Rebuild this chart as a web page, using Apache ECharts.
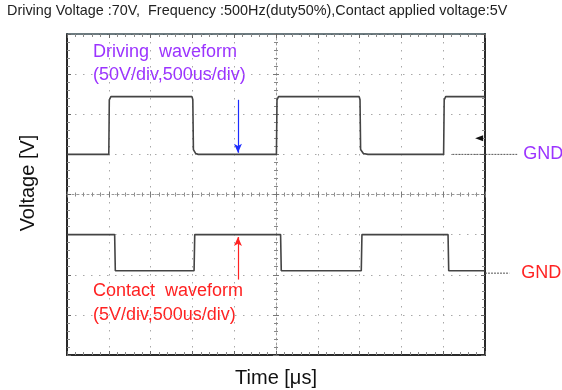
<!DOCTYPE html>
<html>
<head>
<meta charset="utf-8">
<script src="https://cdn.jsdelivr.net/npm/echarts@6/dist/echarts.min.js"></script>
<style>
html, body { margin: 0; padding: 0; background: #fff; }
#mychart { width: 562px; height: 390px; }
</style>
</head>
<body>
<div id="mychart"></div>
<script>
// time [us] / voltage [V]
var driveTime = [0, 500, 506, 525, 1495, 1505, 1512, 1540, 1570, 2505, 2512, 2530, 3495, 3505, 3512, 3545, 3600, 4505, 4512, 4530, 5000];
var driveVolt = [0, 0, 68, 72, 72, 68, 6, 1, 0, 0, 68, 72, 72, 68, 6, 1, 0, 0, 68, 72, 72];
var contactTime = [0, 570, 578, 1520, 1528, 2555, 2563, 3520, 3528, 4558, 4566, 5000];
var contactVolt = [5, 5, 0.5, 0.5, 5, 5, 0.5, 0.5, 5, 5, 0.5, 0.5];

var gndDrive = 0;
var gndContact = 0.2;
var triggerLevel = [4930, 20];
var driveArrow = [[2045, 68], [2045, 2]];
var contactArrow = [[2045, -0.6], [2045, 4.7]];
var driveGndTime = [4610, 5385];
var contactGndTime = [5000, 5290];

var titleText = 'Driving Voltage :70V,  Frequency :500Hz(duty50%),Contact applied voltage:5V';

var FONT = 'Liberation Sans, Arial, sans-serif';
var purple = '#9b33ff';
var red = '#ff2222';

// plot box and the wider strip used for the GND markers
var plotLeft = 67, plotTop = 34, plotW = 418, plotH = 321, stripW = 495;

function pairs(xs, ys) {
	var out = [];
	for(var i = 0; i < xs.length; i++) {
		out.push([xs[i], ys[i]]);
	}
	return out;
}

var dotted = {
	show: true,
	lineStyle: { color: '#a8a8a8', width: 1, type: [1.5, 6.5] }
};

function borderAxis(pos, extra) {
	var a = {
		type: 'value',
		position: pos,
		axisLine: { show: true, onZero: false, lineStyle: { color: '#2a2a2a', width: 2 } },
		axisTick: { show: true, inside: true, length: 4, lineStyle: { color: '#666' } },
		minorTick: { show: true, splitNumber: 5, length: 3, lineStyle: { color: '#888' } },
		axisLabel: { show: false },
		splitLine: { show: false }
	};
	for(var k in extra) a[k] = extra[k];
	return a;
}

function centerAxis(pos, offset, inside, lineShow, extra) {
	var a = {
		type: 'value',
		position: pos,
		offset: offset,
		axisLine: { show: lineShow, onZero: false, lineStyle: { color: '#999', width: 1, type: [2, 3] } },
		axisTick: { show: true, inside: inside, length: 3, lineStyle: { color: '#777' } },
		minorTick: { show: true, splitNumber: 5, length: 2, lineStyle: { color: '#888' } },
		axisLabel: { show: false },
		splitLine: { show: false }
	};
	for(var k in extra) a[k] = extra[k];
	return a;
}

function hiddenAxis(grid, min, max) {
	return { type: 'value', gridIndex: grid, min: min, max: max, show: false, axisLine: { onZero: false } };
}

var tRange = { min: 0, max: 5000, interval: 500 };
var dRange = { min: -250, max: 150, interval: 50 };
var cRange = { min: -10, max: 30, interval: 5 };

var myChart = echarts.init(document.getElementById('mychart'));

var option = {
	animation: false,
	backgroundColor: '#fff',
	textStyle: { fontFamily: FONT },
	title: {
		text: titleText,
		left: 7,
		top: 4,
		padding: 0,
		textStyle: { fontSize: 14.4, fontWeight: 'normal', color: '#222', fontFamily: FONT }
	},
	grid: [
		{ left: plotLeft, top: plotTop, width: plotW, height: plotH, outerBoundsMode: 'none', containLabel: false },
		{ left: plotLeft, top: plotTop, width: stripW, height: plotH, outerBoundsMode: 'none', containLabel: false }
	],
	xAxis: [
		borderAxis('bottom', {
			min: 0, max: 5000, interval: 500,
			splitLine: dotted,
			name: 'Time [\u03bcs]',
			nameLocation: 'middle',
			nameGap: 13,
			nameTextStyle: { fontSize: 20, color: '#111', fontFamily: FONT }
		}),
		borderAxis('top', { min: 0, max: 5000, interval: 500, axisLine: { show: true, onZero: false, lineStyle: { color: '#3c4f55', width: 1.5 } } }),
		centerAxis('bottom', -plotH / 2, true, true, tRange),
		centerAxis('bottom', -plotH / 2, false, false, tRange),
		hiddenAxis(1, 0, tRange.max * stripW / plotW)
	],
	yAxis: [
		borderAxis('left', { min: -250, max: 150, interval: 50, splitLine: dotted }),
		borderAxis('right', { min: -10, max: 30, interval: 5 }),
		centerAxis('left', -plotW / 2, true, true, dRange),
		centerAxis('left', -plotW / 2, false, false, dRange),
		hiddenAxis(1, dRange.min, dRange.max),
		hiddenAxis(1, cRange.min, cRange.max)
	],
	graphic: [
		{
			type: 'text', x: 28, y: 183, rotation: Math.PI / 2,
			style: { text: 'Voltage [V]', font: '20px ' + FONT, fill: '#111', textAlign: 'center', textVerticalAlign: 'middle' }
		},
		{
			type: 'text', x: 93, y: 52,
			style: { text: 'Driving  waveform', font: '18px ' + FONT, fill: purple, textAlign: 'left', textVerticalAlign: 'middle' }
		},
		{
			type: 'text', x: 93, y: 75,
			style: { text: '(50V/div,500us/div)', font: '18px ' + FONT, fill: purple, textAlign: 'left', textVerticalAlign: 'middle' }
		},
		{
			type: 'text', x: 93, y: 291,
			style: { text: 'Contact  waveform', font: '18px ' + FONT, fill: red, textAlign: 'left', textVerticalAlign: 'middle' }
		},
		{
			type: 'text', x: 93, y: 315,
			style: { text: '(5V/div,500us/div)', font: '18px ' + FONT, fill: red, textAlign: 'left', textVerticalAlign: 'middle' }
		}
	],
	series: [
		{
			name: 'Driving waveform',
			type: 'line',
			xAxisIndex: 0,
			yAxisIndex: 0,
			data: pairs(driveTime, driveVolt),
			showSymbol: false,
			lineStyle: { color: '#444', width: 1.6 },
			markLine: {
				silent: true,
				animation: false,
				symbol: ['none', 'arrow'],
				symbolSize: [6, 9],
				lineStyle: { color: '#1c2cff', width: 1.2, type: 'solid' },
				label: { show: false },
				data: [[{ coord: driveArrow[0] }, { coord: driveArrow[1] }]]
			},
			markPoint: {
				silent: true,
				animation: false,
				symbol: 'triangle',
				symbolSize: [6, 8],
				symbolRotate: 90,
				itemStyle: { color: '#111' },
				label: { show: false },
				data: [{ coord: triggerLevel }]
			}
		},
		{
			name: 'Contact waveform',
			type: 'line',
			xAxisIndex: 0,
			yAxisIndex: 1,
			data: pairs(contactTime, contactVolt),
			showSymbol: false,
			lineStyle: { color: '#444', width: 1.6 },
			markLine: {
				silent: true,
				animation: false,
				symbol: ['none', 'arrow'],
				symbolSize: [6, 9],
				lineStyle: { color: red, width: 1.2, type: 'solid' },
				label: { show: false },
				data: [[{ coord: contactArrow[0] }, { coord: contactArrow[1] }]]
			}
		},
		{
			name: 'GND drive',
			type: 'line',
			xAxisIndex: 4,
			yAxisIndex: 4,
			data: pairs(driveGndTime, [gndDrive, gndDrive]),
			showSymbol: false,
			silent: true,
			lineStyle: { color: '#555', width: 1, type: [2, 1] },
			endLabel: { show: true, formatter: 'GND', color: purple, fontSize: 18, distance: 6, fontFamily: FONT }
		},
		{
			name: 'GND contact',
			type: 'line',
			xAxisIndex: 4,
			yAxisIndex: 5,
			data: pairs(contactGndTime, [gndContact, gndContact]),
			showSymbol: false,
			silent: true,
			lineStyle: { color: '#555', width: 1, type: [2, 1] },
			endLabel: { show: true, formatter: 'GND', color: red, fontSize: 18, distance: 12, fontFamily: FONT }
		}
	]
};

myChart.setOption(option);
window.onresize = function() {
	myChart.resize();
}
</script>
</body>
</html>
